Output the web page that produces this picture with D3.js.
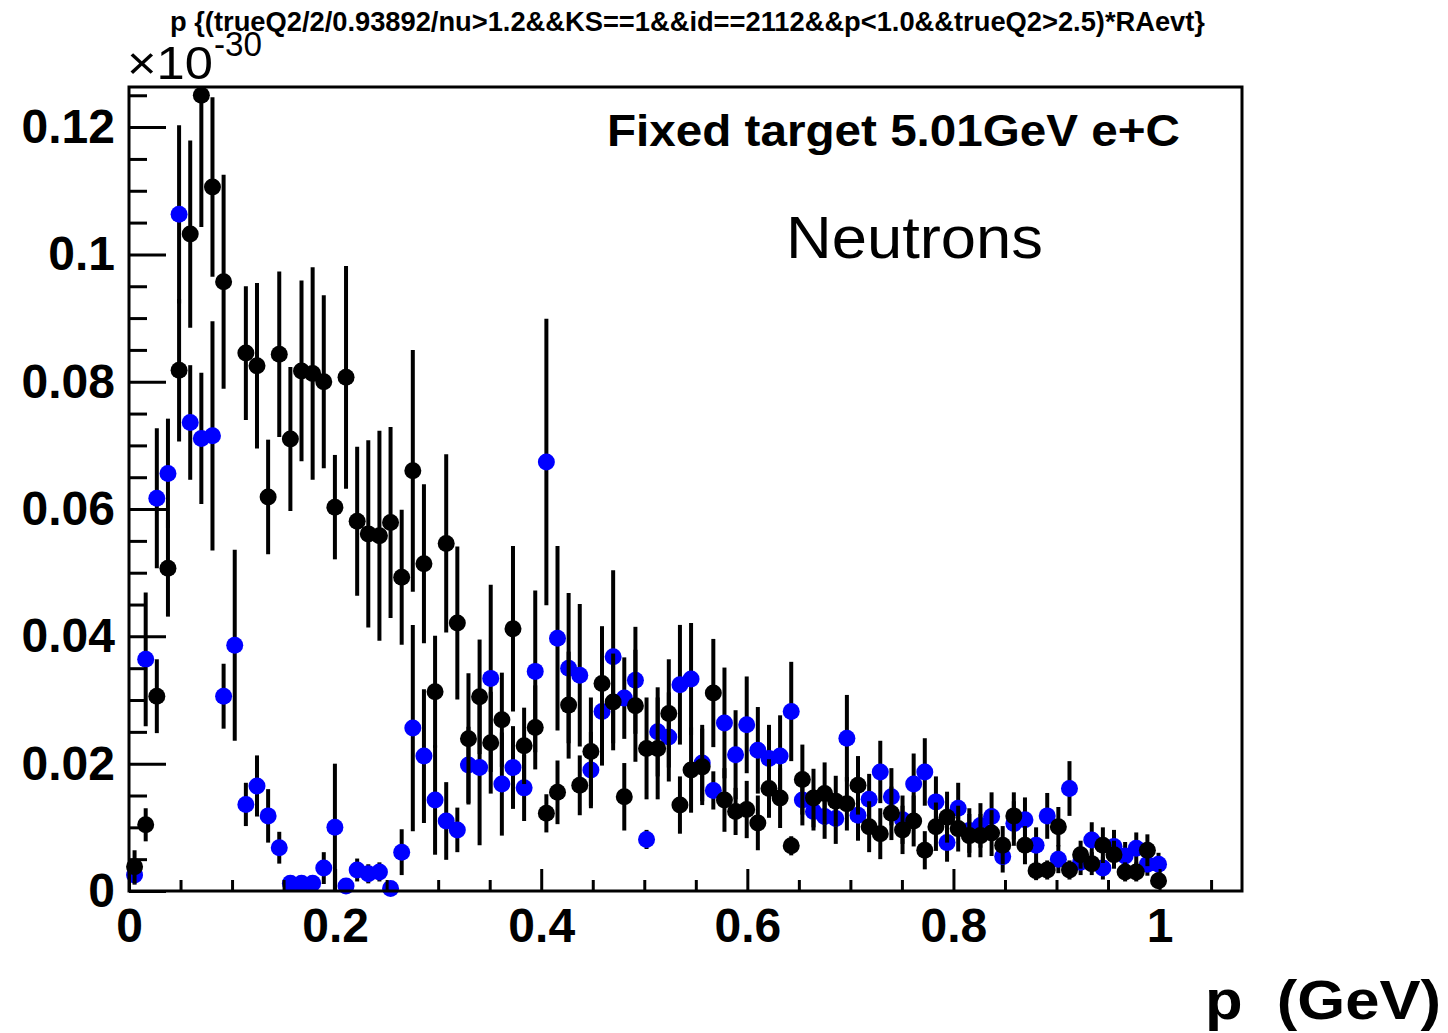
<!DOCTYPE html>
<html>
<head>
<meta charset="utf-8">
<script src="https://cdn.jsdelivr.net/npm/d3@7"></script>
<style>
  body { margin: 0; background: #fff; }
  svg { display: block; font-family: "Liberation Sans", Arial, Helvetica, sans-serif; }
</style>
</head>
<body>
<div id="chart"></div>
<script>
// histogram binning: 100 bins from 0 to 1.08 GeV
var nBins = 100, pMin = 0, pMax = 1.08;

// black series (bin content, x1e-30), null = empty bin
var blackVal = [
  0.0038, 0.0104, 0.0306, 0.0507, 0.0818, 0.1032, 0.1250, 0.1106, 0.0957, null,
  0.0845, 0.0825, 0.0619, 0.0843, 0.0710, 0.0817, 0.0813, 0.0800, 0.0603, 0.0807,
  0.0581, 0.0561, 0.0558, 0.0579, 0.0493, 0.0660, 0.0514, 0.0313, 0.0546, 0.0421,
  0.0239, 0.0305, 0.0233, 0.0269, 0.0412, 0.0228, 0.0257, 0.0122, 0.0155, 0.0292,
  0.0166, 0.0219, 0.0326, 0.0297, 0.0148, 0.0291, 0.0224, 0.0224, 0.0279, 0.0135,
  0.0190, 0.0195, 0.0311, 0.0143, 0.0125, 0.0128, 0.0107, 0.0161, 0.0146, 0.0071,
  0.0175, 0.0146, 0.0153, 0.0141, 0.0137, 0.0166, 0.0101, 0.0090, 0.0122, 0.0096,
  0.0110, 0.0064, 0.0101, 0.0116, 0.0098, 0.0087, 0.0087, 0.0091, 0.0072, 0.0118,
  0.0072, 0.0032, 0.0033, 0.0101, 0.0033, 0.0057, 0.0043, 0.0072, 0.0057, 0.0030,
  0.0030, 0.0064, 0.0016
];
var blackErr = [
  0.0026, 0.0026, 0.0058, 0.0076, 0.0112, 0.0147, 0.0207, 0.0141, 0.0168, null,
  0.0105, 0.0130, 0.0090, 0.0130, 0.0113, 0.0142, 0.0167, 0.0136, 0.0082, 0.0175,
  0.0117, 0.0147, 0.0165, 0.0150, 0.0106, 0.0190, 0.0125, 0.0088, 0.0140, 0.0120,
  0.0103, 0.0090, 0.0080, 0.0074, 0.0130, 0.0060, 0.0066, 0.0030, 0.0050, 0.0084,
  0.0047, 0.0085, 0.0090, 0.0076, 0.0053, 0.0088, 0.0080, 0.0080, 0.0085, 0.0045,
  0.0067, 0.0060, 0.0085, 0.0050, 0.0037, 0.0045, 0.0043, 0.0046, 0.0047, 0.0015,
  0.0055, 0.0046, 0.0049, 0.0040, 0.0042, 0.0046, 0.0040, 0.0040, 0.0042, 0.0038,
  0.0040, 0.0030, 0.0038, 0.0040, 0.0036, 0.0034, 0.0034, 0.0036, 0.0030, 0.0037,
  0.0030, 0.0015, 0.0015, 0.0031, 0.0015, 0.0022, 0.0018, 0.0028, 0.0022, 0.0015,
  0.0015, 0.0025, 0.0010
];

// blue series
var blueVal = [
  0.0025, 0.0364, 0.0617, 0.0656, 0.1063, 0.0736, 0.0711, 0.0715, 0.0306, 0.0386,
  0.0136, 0.0165, 0.0118, 0.0068, 0.0012, 0.0012, 0.0012, 0.0036, 0.0100, 0.0008,
  0.0033, 0.0027, 0.0030, 0.0004, 0.0061, 0.0256, 0.0212, 0.0143, 0.0110, 0.0096,
  0.0198, 0.0194, 0.0334, 0.0168, 0.0194, 0.0162, 0.0345, 0.0674, 0.0397, 0.0350,
  0.0339, 0.0190, 0.0282, 0.0368, 0.0303, 0.0331, 0.0081, 0.0250, 0.0242, 0.0324,
  0.0333, 0.0201, 0.0158, 0.0264, 0.0214, 0.0261, 0.0221, 0.0208, 0.0212, 0.0282,
  0.0143, 0.0125, 0.0117, 0.0114, 0.0240, 0.0119, 0.0144, 0.0187, 0.0148, 0.0112,
  0.0168, 0.0187, 0.0140, 0.0076, 0.0130, 0.0095, 0.0103, 0.0117, 0.0054, 0.0106,
  0.0112, 0.0072, 0.0118, 0.0050, 0.0161, 0.0045, 0.0080, 0.0036, 0.0070, 0.0055,
  0.0067, 0.0042, 0.0042
];
var blueErr = [
  0.0015, 0.0105, 0.0110, 0.0086, 0.0140, 0.0090, 0.0103, 0.0180, 0.0051, 0.0150,
  0.0034, 0.0048, 0.0042, 0.0025, 0.0008, 0.0008, 0.0008, 0.0025, 0.0100, 0.0008,
  0.0018, 0.0015, 0.0015, 0.0004, 0.0036, 0.0162, 0.0105, 0.0086, 0.0061, 0.0035,
  0.0060, 0.0122, 0.0147, 0.0081, 0.0065, 0.0052, 0.0127, 0.0225, 0.0145, 0.0118,
  0.0112, 0.0060, 0.0085, 0.0136, 0.0064, 0.0084, 0.0015, 0.0070, 0.0070, 0.0094,
  0.0088, 0.0060, 0.0030, 0.0087, 0.0070, 0.0076, 0.0068, 0.0053, 0.0064, 0.0078,
  0.0040, 0.0030, 0.0035, 0.0040, 0.0068, 0.0040, 0.0040, 0.0049, 0.0045, 0.0038,
  0.0048, 0.0053, 0.0040, 0.0030, 0.0040, 0.0035, 0.0035, 0.0038, 0.0025, 0.0035,
  0.0035, 0.0028, 0.0036, 0.0022, 0.0043, 0.0020, 0.0028, 0.0018, 0.0026, 0.0022,
  0.0025, 0.0018, 0.0018
];

var xMajor = [0, 0.2, 0.4, 0.6, 0.8, 1];
var xMinor = [0.05, 0.1, 0.15, 0.25, 0.3, 0.35, 0.45, 0.5, 0.55, 0.65, 0.7, 0.75, 0.85, 0.9, 0.95, 1.05];
var yMajor = [0, 0.02, 0.04, 0.06, 0.08, 0.1, 0.12];
var yMinor = [0.005, 0.01, 0.015, 0.025, 0.03, 0.035, 0.045, 0.05, 0.055, 0.065, 0.07, 0.075,
              0.085, 0.09, 0.095, 0.105, 0.11, 0.115, 0.125];
var yMax = 0.1263;

var title = "p {(trueQ2/2/0.93892/nu>1.2&&KS==1&&id==2112&&p<1.0&&trueQ2>2.5)*RAevt}";

var width = 1448, height = 1033;
var frame = {left: 129, right: 1242, top: 87, bottom: 891};

var svg = d3.select("#chart").append("svg")
  .attr("width", width)
  .attr("height", height);

svg.append("rect").attr("width", width).attr("height", height).attr("fill", "#fff");

var x = d3.scaleLinear().domain([pMin, pMax]).range([frame.left, frame.right]);
var y = d3.scaleLinear().domain([0, yMax]).range([frame.bottom, frame.top]);

var binW = (pMax - pMin) / nBins;

function points(vals, errs) {
  var out = [];
  for (var i = 0; i < vals.length; i++) {
    if (vals[i] === null) continue;
    out.push({p: pMin + (i + 0.5) * binW, v: vals[i], e: errs[i]});
  }
  return out;
}

var plot = svg.append("g").attr("class", "plot");

function drawSeries(data, color, cls) {
  var g = plot.append("g").attr("class", cls);
  g.selectAll("line.err").data(data).enter().append("line")
    .attr("class", "err")
    .attr("x1", d => x(d.p)).attr("x2", d => x(d.p))
    .attr("y1", d => y(Math.min(d.v + d.e, yMax)))
    .attr("y2", d => y(Math.max(d.v - d.e, 0)))
    .attr("stroke", "#000")
    .attr("stroke-width", 4);
  g.selectAll("circle").data(data).enter().append("circle")
    .attr("cx", d => x(d.p))
    .attr("cy", d => y(d.v))
    .attr("r", 8.5)
    .attr("fill", color);
}

drawSeries(points(blueVal, blueErr), "#0000ff", "blue");
drawSeries(points(blackVal, blackErr), "#000000", "black");

// axes
var fmt = d => String(d);

svg.append("g")
  .attr("class", "x axis")
  .attr("transform", "translate(0," + frame.bottom + ")")
  .call(d3.axisBottom(x).tickValues(xMajor).tickSize(-22).tickPadding(17).tickFormat(fmt));
svg.append("g")
  .attr("transform", "translate(0," + frame.bottom + ")")
  .call(d3.axisBottom(x).tickValues(xMinor).tickSize(-11).tickFormat(""));

svg.append("g")
  .attr("class", "y axis")
  .attr("transform", "translate(" + frame.left + ",0)")
  .call(d3.axisLeft(y).tickValues(yMajor).tickSize(-37).tickPadding(14).tickFormat(fmt));
svg.append("g")
  .attr("transform", "translate(" + frame.left + ",0)")
  .call(d3.axisLeft(y).tickValues(yMinor).tickSize(-18).tickFormat(""));

svg.selectAll(".domain").remove();
svg.selectAll(".tick line").attr("stroke", "#000").attr("stroke-width", 3);
svg.selectAll(".axis text")
  .attr("fill", "#000")
  .style("font-size", "48px")
  .style("font-weight", "bold")
  .style("font-family", "'Liberation Sans', Arial, sans-serif");

// frame
svg.append("rect")
  .attr("x", frame.left).attr("y", frame.top)
  .attr("width", frame.right - frame.left)
  .attr("height", frame.bottom - frame.top)
  .attr("fill", "none")
  .attr("stroke", "#000")
  .attr("stroke-width", 3);

// title
svg.append("text")
  .attr("x", 170).attr("y", 31)
  .attr("textLength", 1035)
  .attr("lengthAdjust", "spacingAndGlyphs")
  .style("font-size", "27px").style("font-weight", "bold")
  .text(title);

// exponent
svg.append("text")
  .attr("x", 127).attr("y", 79)
  .attr("textLength", 86)
  .attr("lengthAdjust", "spacingAndGlyphs")
  .style("font-size", "47px")
  .text("\u00d710");
svg.append("text")
  .attr("x", 214).attr("y", 56)
  .attr("textLength", 48)
  .attr("lengthAdjust", "spacingAndGlyphs")
  .style("font-size", "35px")
  .text("-30");

svg.append("text")
  .attr("x", 607).attr("y", 146)
  .attr("textLength", 573)
  .attr("lengthAdjust", "spacingAndGlyphs")
  .style("font-size", "45px").style("font-weight", "bold")
  .text("Fixed target 5.01GeV e+C");

svg.append("text")
  .attr("x", 786).attr("y", 258)
  .attr("textLength", 257)
  .attr("lengthAdjust", "spacingAndGlyphs")
  .style("font-size", "60px")
  .text("Neutrons");

// x axis title
svg.append("text")
  .attr("x", 1205).attr("y", 1019)
  .attr("textLength", 236)
  .attr("lengthAdjust", "spacingAndGlyphs")
  .attr("xml:space", "preserve")
  .style("white-space", "pre")
  .style("font-size", "56px").style("font-weight", "bold")
  .text("p  (GeV)");
</script>
</body>
</html>
